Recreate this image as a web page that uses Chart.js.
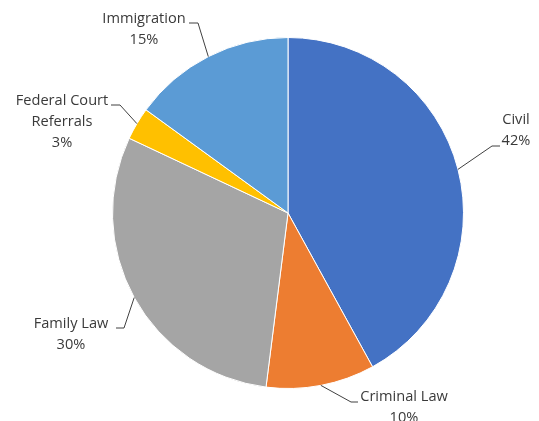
<!DOCTYPE html>
<html>
<head>
<meta charset="utf-8">
<script src="https://cdn.jsdelivr.net/npm/chart.js@4.4.1/dist/chart.umd.min.js"></script>
<style>
    html, body { margin: 0; padding: 0; background: #fff; }
    canvas { display: block; }
</style>
</head>
<body>
<canvas id="pizza" width="539" height="421"></canvas>
<script>
// dados do gráfico
let categories = ['Civil', 'Criminal Law', 'Family Law', 'Federal Court Referrals', 'Immigration'];
let shares = [42, 10, 30, 3, 15];
let labelLines = [['Civil', '42%'], ['Criminal Law', '10%'], ['Family Law', '30%'], ['Federal Court', 'Referrals', '3%'], ['Immigration', '15%']];

let colors = ['#4472C4', '#ED7D31', '#A5A5A5', '#FFC000', '#5B9BD5'];

// posição dos rótulos: cotovelo da linha, ponta da linha e centro do texto
let labelSpots = [
    { elbow: [492, 146], tip: [500, 146], text: [516, 120] },
    { elbow: [351, 402], tip: [358, 402], text: [404, 397] },
    { elbow: [124, 328], tip: [116, 328], text: [71, 324] },
    { elbow: [120, 105], tip: [111, 105], text: [62, 101] },
    { elbow: [198, 23], tip: [189, 23], text: [144, 19] }
];

// desenha linhas de chamada e textos
const leaderLabels = {
    id: 'leaderLabels',
    afterDatasetsDraw(chart) {
        const ctx = chart.ctx;
        const arcs = chart.getDatasetMeta(0).data;
        ctx.save();
        arcs.forEach((arc, i) => {
            const mid = (arc.startAngle + arc.endAngle) / 2;
            const x0 = arc.x + Math.cos(mid) * arc.outerRadius;
            const y0 = arc.y + Math.sin(mid) * arc.outerRadius;
            const spot = labelSpots[i];

            ctx.strokeStyle = '#404040';
            ctx.lineWidth = 1;
            ctx.beginPath();
            ctx.moveTo(x0, y0);
            ctx.lineTo(spot.elbow[0], spot.elbow[1]);
            ctx.lineTo(spot.tip[0], spot.tip[1]);
            ctx.stroke();

            ctx.fillStyle = '#3a3a3a';
            ctx.font = '14.6px "Open Sans"';
            ctx.textAlign = 'center';
            ctx.textBaseline = 'middle';
            labelLines[i].forEach((line, k) => {
                ctx.fillText(line, spot.text[0], spot.text[1] + k * 21);
            });
        });
        ctx.restore();
    }
};

new Chart(document.getElementById('pizza'), {
    type: 'pie',
    data: {
        labels: categories,
        datasets: [{
            data: shares,
            backgroundColor: colors,
            borderColor: '#ffffff',
            borderWidth: 1
        }]
    },
    options: {
        responsive: false,
        animation: false,
        layout: {
            padding: { left: 112, right: 75, top: 37, bottom: 32 }
        },
        plugins: {
            legend: { display: false },
            tooltip: { enabled: false }
        }
    },
    plugins: [leaderLabels]
});
</script>
</body>
</html>
